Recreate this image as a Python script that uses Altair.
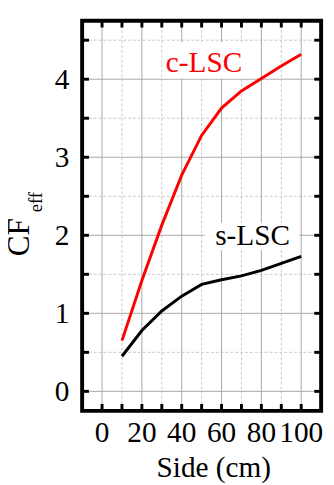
import altair as alt
import pandas as pd

# ---- data ----
sides = [10, 20, 30, 40, 50, 60, 70, 80, 90, 100]
c_lsc = [0.65, 1.42, 2.13, 2.77, 3.28, 3.63, 3.85, 4.01, 4.17, 4.32]
s_lsc = [0.45, 0.78, 1.03, 1.22, 1.37, 1.43, 1.48, 1.55, 1.64, 1.73]
series_names = ["c-LSC", "s-LSC"]
series_colors = ["#ff0000", "#000000"]

x_major = [0, 20, 40, 60, 80, 100]
x_minor = [10, 30, 50, 70, 90]
y_major = [0, 1, 2, 3, 4]
y_minor = [0.5, 1.5, 2.5, 3.5, 4.5]

W, H = 245, 400
FONT = "Liberation Serif"

xs = alt.Scale(domain=[-10, 110], nice=False, zero=False)
ys = alt.Scale(domain=[-0.25, 4.75], nice=False, zero=False)

df = pd.DataFrame({
    "side": sides * 2,
    "cf": c_lsc + s_lsc,
    "series": [series_names[0]] * len(sides) + [series_names[1]] * len(sides),
})

def rules_x(vals, **kw):
    return alt.Chart(pd.DataFrame({"v": vals})).mark_rule(**kw).encode(
        x=alt.X("v:Q", scale=xs, axis=None))

def rules_y(vals, **kw):
    return alt.Chart(pd.DataFrame({"v": vals})).mark_rule(**kw).encode(
        y=alt.Y("v:Q", scale=ys, axis=None))

grid_minor_x = rules_x(x_minor, color="#c8c8c8", strokeWidth=1, strokeDash=[3, 2])
grid_minor_y = rules_y(y_minor, color="#c8c8c8", strokeWidth=1, strokeDash=[3, 2])
grid_major_x = rules_x(x_major, color="#a8a8a8", strokeWidth=1)
grid_major_y = rules_y(y_major, color="#a8a8a8", strokeWidth=1)

# white boxes behind annotation labels
boxes = alt.Chart(pd.DataFrame({
    "x1": [30.3, 51.4], "x2": [74.4, 98.9], "y1": [4.01, 1.81], "y2": [4.475, 2.16]
})).mark_rect(color="white").encode(
    x=alt.X("x1:Q", scale=xs, axis=None), x2="x2:Q",
    y=alt.Y("y1:Q", scale=ys, axis=None), y2="y2:Q")

lines = alt.Chart(df).mark_line(strokeWidth=3).encode(
    x=alt.X("side:Q", scale=xs, axis=None),
    y=alt.Y("cf:Q", scale=ys, axis=None),
    color=alt.Color("series:N", scale=alt.Scale(domain=series_names, range=series_colors),
                    legend=None),
    detail="series:N",
)

labels = alt.Chart(pd.DataFrame({
    "x": [51.2, 75.6], "y": [4.09, 1.875], "t": series_names
})).mark_text(font=FONT, fontSize=30, align="center", baseline="alphabetic").encode(
    x=alt.X("x:Q", scale=xs, axis=None),
    y=alt.Y("y:Q", scale=ys, axis=None),
    text="t:N",
    color=alt.Color("t:N", scale=alt.Scale(domain=series_names, range=series_colors),
                    legend=None),
)

# tick labels
xlab = alt.Chart(pd.DataFrame({"v": x_major})).mark_text(
    font=FONT, fontSize=30, align="center", baseline="alphabetic", color="black").encode(
    x=alt.X("v:Q", scale=xs, axis=None), y=alt.value(H + 32), text=alt.Text("v:Q", format="d"))
ylab = alt.Chart(pd.DataFrame({"v": y_major})).mark_text(
    font=FONT, fontSize=30, align="right", baseline="alphabetic", dy=10, color="black").encode(
    y=alt.Y("v:Q", scale=ys, axis=None), x=alt.value(-13), text=alt.Text("v:Q", format="d"))

# inward ticks on all four sides
xt = x_major + x_minor
yt = y_major + y_minor
tk = dict(color="black", strokeWidth=3)
tick_b = alt.Chart(pd.DataFrame({"v": xt})).mark_rule(**tk).encode(
    x=alt.X("v:Q", scale=xs, axis=None), y=alt.value(H), y2=alt.value(H - 7))
tick_t = alt.Chart(pd.DataFrame({"v": xt})).mark_rule(**tk).encode(
    x=alt.X("v:Q", scale=xs, axis=None), y=alt.value(0), y2=alt.value(7))
tick_l = alt.Chart(pd.DataFrame({"v": yt})).mark_rule(**tk).encode(
    y=alt.Y("v:Q", scale=ys, axis=None), x=alt.value(0), x2=alt.value(7))
tick_r = alt.Chart(pd.DataFrame({"v": yt})).mark_rule(**tk).encode(
    y=alt.Y("v:Q", scale=ys, axis=None), x=alt.value(W), x2=alt.value(W - 7))

frame = alt.Chart(pd.DataFrame({"a": [0]})).mark_rect(
    filled=False, stroke="black", strokeWidth=4).encode(
    x=alt.value(0), x2=alt.value(W), y=alt.value(0), y2=alt.value(H))

xtitle = alt.Chart(pd.DataFrame({"t": ["Side (cm)"]})).mark_text(
    font=FONT, fontSize=30, align="center", baseline="alphabetic", color="black").encode(
    x=alt.value(135), y=alt.value(468), text="t:N")
ytitle_main = alt.Chart(pd.DataFrame({"t": ["CF"]})).mark_text(
    font=FONT, fontSize=32, align="center", baseline="alphabetic", angle=270,
    color="black").encode(x=alt.value(-54), y=alt.value(222), text="t:N")
ytitle_sub = alt.Chart(pd.DataFrame({"t": ["eff"]})).mark_text(
    font=FONT, fontSize=19, align="center", baseline="alphabetic", angle=270,
    color="black").encode(x=alt.value(-41), y=alt.value(186), text="t:N")

chart = alt.layer(
    grid_minor_x, grid_minor_y, grid_major_x, grid_major_y, boxes,
    lines, labels, tick_b, tick_t, tick_l, tick_r, frame,
    xlab, ylab, xtitle, ytitle_main, ytitle_sub,
).properties(
    width=W, height=H,
    autosize=alt.AutoSizeParams(type="none"),
    padding={"left": 76, "top": 7, "right": 5, "bottom": 70},
    background="white",
).configure_view(stroke="transparent")

chart.save("out.html", embed_options={"renderer": "svg", "actions": False})
